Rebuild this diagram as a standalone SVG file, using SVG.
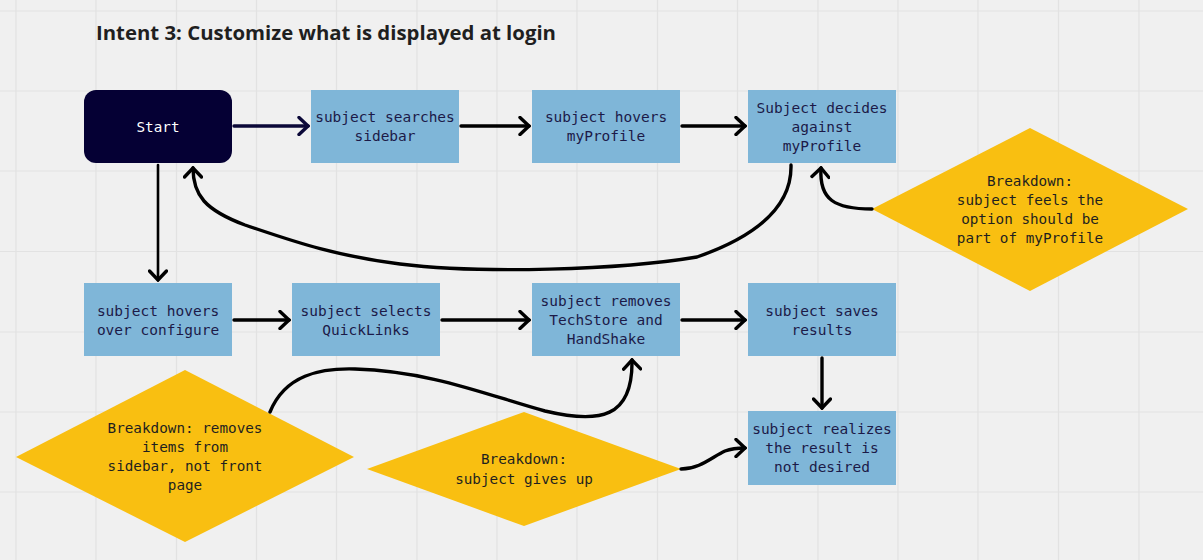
<svg xmlns="http://www.w3.org/2000/svg" width="1203" height="560" viewBox="0 0 1203 560">
<style>
.grid line{stroke:#e2e2e2;stroke-width:1.2}
.box{fill:#7fb6d8}
.dia{fill:#f9bf11}
.bt{font-family:"DejaVu Sans Mono","Liberation Mono",monospace;font-size:14.5px;fill:#1c1a48;text-anchor:middle}
.dt{font-family:"DejaVu Sans Mono","Liberation Mono",monospace;font-size:14.3px;fill:#1f1f1f;text-anchor:middle}
.st{font-family:"DejaVu Sans Mono","Liberation Mono",monospace;font-size:14.3px;fill:#ffffff;text-anchor:middle}
.title{font-family:"Open Sans","Noto Sans",sans-serif;font-size:20.3px;font-weight:700;fill:#1f1f1f}
.c{fill:none;stroke:#000;stroke-width:3.4;stroke-linecap:round;stroke-linejoin:round}
</style>
<defs>
<marker id="ah" viewBox="-12 -10 14 20" markerWidth="14" markerHeight="20" refX="0" refY="0" orient="auto" markerUnits="userSpaceOnUse">
<path d="M -9 -8.5 L 0 0 L -9 8.5" fill="none" stroke="#000" stroke-width="3.4" stroke-linecap="round" stroke-linejoin="miter"/>
</marker>
<marker id="ahn" viewBox="-12 -10 14 20" markerWidth="14" markerHeight="20" refX="0" refY="0" orient="auto" markerUnits="userSpaceOnUse">
<path d="M -9 -8.5 L 0 0 L -9 8.5" fill="none" stroke="#0b0838" stroke-width="3.4" stroke-linecap="round" stroke-linejoin="miter"/>
</marker>
</defs>
<rect width="1203" height="560" fill="#f0f0f0"/>
<g class="grid">
<line x1="16" y1="0" x2="16" y2="560"/><line x1="96" y1="0" x2="96" y2="560"/><line x1="176.5" y1="0" x2="176.5" y2="560"/><line x1="256.5" y1="0" x2="256.5" y2="560"/><line x1="336.5" y1="0" x2="336.5" y2="560"/><line x1="417" y1="0" x2="417" y2="560"/><line x1="497" y1="0" x2="497" y2="560"/><line x1="577" y1="0" x2="577" y2="560"/><line x1="657.5" y1="0" x2="657.5" y2="560"/><line x1="737.5" y1="0" x2="737.5" y2="560"/><line x1="818" y1="0" x2="818" y2="560"/><line x1="898" y1="0" x2="898" y2="560"/><line x1="978" y1="0" x2="978" y2="560"/><line x1="1058.5" y1="0" x2="1058.5" y2="560"/><line x1="1139" y1="0" x2="1139" y2="560"/>
<line x1="0" y1="11" x2="1203" y2="11"/><line x1="0" y1="91" x2="1203" y2="91"/><line x1="0" y1="171" x2="1203" y2="171"/><line x1="0" y1="251.5" x2="1203" y2="251.5"/><line x1="0" y1="332" x2="1203" y2="332"/><line x1="0" y1="412" x2="1203" y2="412"/><line x1="0" y1="492" x2="1203" y2="492"/>
</g>
<text class="title" x="96" y="40" textLength="460" lengthAdjust="spacingAndGlyphs">Intent 3: Customize what is displayed at login</text>

<g id="n-start"><rect x="84" y="90" width="148" height="73" rx="12" fill="#050034"/><text class="st" x="158" y="132">Start</text></g>
<g id="n-searches"><rect class="box" x="311" y="90" width="148" height="73"/><text class="bt" x="385" y="122">subject searches</text><text class="bt" x="385" y="141">sidebar</text></g>
<g id="n-hovers"><rect class="box" x="532" y="90" width="148" height="73"/><text class="bt" x="606" y="122">subject hovers</text><text class="bt" x="606" y="141">myProfile</text></g>
<g id="n-decides"><rect class="box" x="748" y="90" width="148" height="73"/><text class="bt" x="822" y="112.5">Subject decides</text><text class="bt" x="822" y="131.5">against</text><text class="bt" x="822" y="150.5">myProfile</text></g>
<g id="n-bd1"><polygon class="dia" points="872,209 1030,128 1188,209 1030,291"/><text class="dt" x="1030" y="186">Breakdown:</text><text class="dt" x="1030" y="205">subject feels the</text><text class="dt" x="1030" y="224">option should be</text><text class="dt" x="1030" y="243">part of myProfile</text></g>
<g id="n-configure"><rect class="box" x="84" y="283" width="148" height="73"/><text class="bt" x="158" y="315.5">subject hovers</text><text class="bt" x="158" y="334.5">over configure</text></g>
<g id="n-quicklinks"><rect class="box" x="292" y="283" width="148" height="73"/><text class="bt" x="366" y="315.5">subject selects</text><text class="bt" x="366" y="334.5">QuickLinks</text></g>
<g id="n-removes"><rect class="box" x="532" y="283" width="148" height="73"/><text class="bt" x="606" y="306">subject removes</text><text class="bt" x="606" y="325">TechStore and</text><text class="bt" x="606" y="344">HandShake</text></g>
<g id="n-saves"><rect class="box" x="748" y="283" width="148" height="73"/><text class="bt" x="822" y="315.5">subject saves</text><text class="bt" x="822" y="334.5">results</text></g>
<g id="n-realizes"><rect class="box" x="748" y="411" width="148" height="74"/><text class="bt" x="822" y="434">subject realizes</text><text class="bt" x="822" y="453">the result is</text><text class="bt" x="822" y="472">not desired</text></g>
<g id="n-bd2"><polygon class="dia" points="16,457 185,370 354,457 185,542"/><text class="dt" x="185" y="433">Breakdown: removes</text><text class="dt" x="185" y="452">items from</text><text class="dt" x="185" y="471">sidebar, not front</text><text class="dt" x="185" y="490">page</text></g>
<g id="n-bd3"><polygon class="dia" points="367,469 524,412 681,469 524,526"/><text class="dt" x="524" y="464">Breakdown:</text><text class="dt" x="524" y="484">subject gives up</text></g>

<g id="connectors">
<path d="M 234 126 L 308 126" class="c" style="stroke:#0b0838" marker-end="url(#ahn)"/>
<path d="M 461 126 L 529 126" class="c" marker-end="url(#ah)"/>
<path d="M 682 126 L 745 126" class="c" marker-end="url(#ah)"/>
<path d="M 158 165 L 158 280" class="c" style="stroke-width:2.6" marker-end="url(#ah)"/>
<path d="M 791 165 C 792 205 760 235 697 257 C 620 270 480 274 400 264 C 330 255 290 240 245 225 C 205 210 193 195 193 168" class="c" marker-end="url(#ah)"/>
<path d="M 872 209 C 835 209 819 200 821 168" class="c" marker-end="url(#ah)"/>
<path d="M 234 320 L 289 320" class="c" marker-end="url(#ah)"/>
<path d="M 442 320 L 529 320" class="c" marker-end="url(#ah)"/>
<path d="M 682 320 L 745 320" class="c" marker-end="url(#ah)"/>
<path d="M 822 358 L 822 408" class="c" marker-end="url(#ah)"/>
<path d="M 270 412 C 285 375 320 368 355 369 C 430 371 490 396 545 411 C 600 424 633 418 632 360" class="c" marker-end="url(#ah)"/>
<path d="M 681 469 C 700 469 712 457 725 451 C 733 448 739 448 745 448" class="c" marker-end="url(#ah)"/>
</g>
</svg>
